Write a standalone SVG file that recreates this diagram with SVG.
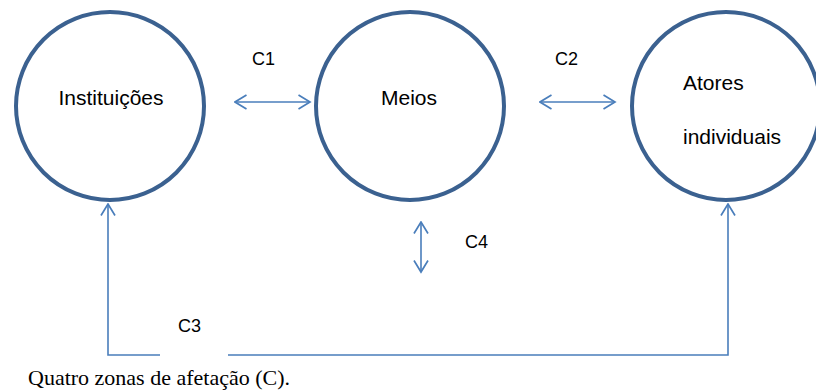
<svg xmlns="http://www.w3.org/2000/svg" width="816" height="392" viewBox="0 0 816 392">
  <style>
    .node { fill: #ffffff; stroke: #3b6190; stroke-width: 4; }
    .lbl { font-family: "Liberation Sans", Arial, sans-serif; font-size: 21px; fill: #000000; }
    .tag { font-family: "Liberation Sans", Arial, sans-serif; font-size: 18px; fill: #000000; }
    .link { fill: none; stroke: #4a7ebb; stroke-width: 1.6; }
    .cap { font-family: "Liberation Serif", "Times New Roman", serif; font-size: 22px; fill: #000000; }
  </style>
  <defs>
    <marker id="chev" viewBox="0 0 14 16" refX="12.5" refY="8" markerWidth="14" markerHeight="16" markerUnits="userSpaceOnUse" orient="auto-start-reverse">
      <path d="M1,1 L12.5,8 L1,15" fill="none" stroke="#4a7ebb" stroke-width="1.7"/>
    </marker>
  </defs>

  <g id="instituicoes">
    <circle class="node" cx="110" cy="106" r="94"/>
    <text class="lbl" x="111" y="105" text-anchor="middle">Instituições</text>
  </g>

  <g id="meios">
    <circle class="node" cx="410" cy="106" r="94"/>
    <text class="lbl" x="409" y="105" text-anchor="middle">Meios</text>
  </g>

  <g id="atores">
    <circle class="node" cx="726" cy="106" r="94"/>
    <text class="lbl" x="683" y="90">Atores</text>
    <text class="lbl" x="683" y="144">individuais</text>
  </g>

  <g id="connectors">
    <!-- C1 -->
    <line class="link" x1="235" y1="102" x2="310" y2="102" marker-start="url(#chev)" marker-end="url(#chev)"/>
    <!-- C2 -->
    <line class="link" x1="540" y1="102" x2="615" y2="102" marker-start="url(#chev)" marker-end="url(#chev)"/>
    <!-- C4 -->
    <line class="link" x1="421" y1="222" x2="421" y2="272" marker-start="url(#chev)" marker-end="url(#chev)"/>
    <!-- C3 -->
    <polyline class="link" points="108,204 108,355 160,355" marker-start="url(#chev)"/>
    <polyline class="link" points="228,355 728,355 728,204" marker-end="url(#chev)"/>
  </g>

  <g id="labels">
    <text class="tag" x="252" y="65">C1</text>
    <text class="tag" x="555" y="65">C2</text>
    <text class="tag" x="465" y="248">C4</text>
    <text class="tag" x="178" y="332">C3</text>
  </g>

  <text class="cap" x="28" y="385">Quatro zonas de afetação (C).</text>
</svg>
